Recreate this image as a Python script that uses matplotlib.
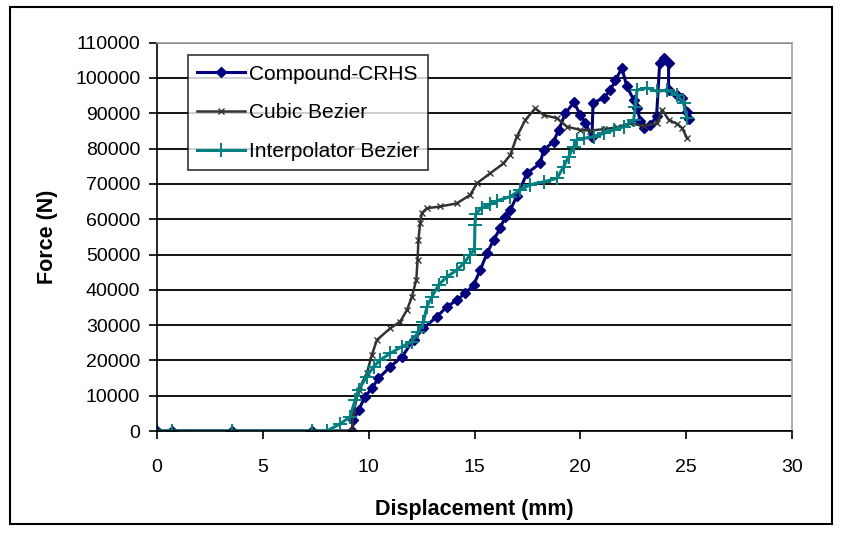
import matplotlib.pyplot as plt
from matplotlib.patches import Rectangle

plt.rcParams['font.family'] = ['Liberation Sans', 'DejaVu Sans']

# Compound-CRHS (displacement mm, force N)
crhs_x = [0, 0.72, 3.53, 7.3, 9.2, 9.28, 9.52, 9.83, 10.15, 10.46, 11.02, 11.57,
          12.12, 12.59, 13.22, 13.7, 14.17, 14.56, 14.96, 15.27, 15.59, 15.9,
          16.21, 16.45, 16.69, 17.0, 17.48, 18.1, 18.27, 18.74, 18.98, 19.29,
          19.7, 20.0, 20.24, 20.55, 20.6, 21.1, 21.42, 21.66, 21.96, 22.2,
          22.52, 22.68, 22.84, 23.0, 23.3, 23.6, 23.75, 23.94, 24.17, 24.17,
          24.57, 24.8, 25.04, 25.15]
crhs_y = [0, 0, 0, 0, 0, 3100, 5900, 9700, 12100, 14900, 18200, 21000,
          25800, 29100, 32400, 35200, 37100, 39000, 41400, 45600, 50300, 54100,
          57400, 60700, 62600, 66500, 73000, 75800, 79600, 82000, 85300, 90000,
          93100, 89500, 87200, 83400, 93000, 94300, 96600, 99400, 102800, 97600,
          93800, 91500, 87700, 85800, 86700, 89100, 104200, 105600, 104200, 96600,
          95200, 94300, 90500, 88500]

# Cubic Bezier
cubic_x = [0, 0.72, 3.53, 7.3, 9.2, 9.28, 9.52, 9.91, 10.15, 10.39, 11.02, 11.49,
           11.81, 12.04, 12.25, 12.31, 12.35, 12.43, 12.51, 12.75, 13.38, 14.17,
           14.8, 15.12, 15.74, 16.37, 16.69, 17.0, 17.4, 17.87, 18.27, 18.9,
           19.37, 20.0, 20.47, 21.1, 21.73, 22.36, 22.99, 23.63, 23.86, 24.18,
           24.57, 24.81, 25.04]
cubic_y = [0, 0, 0, 0, 0, 5000, 11600, 16300, 21500, 25800, 29100, 31000,
           34300, 38000, 42800, 48400, 54100, 58800, 61700, 63100, 63600, 64500,
           66900, 70200, 73000, 75800, 78200, 83400, 88100, 91400, 89500, 88600,
           86200, 85300, 85100, 85500, 86000, 87200, 86400, 87200, 91000, 88100,
           87000, 85800, 83000]

# Interpolator Bezier
interp_x = [0, 0.72, 3.53, 7.3, 8.02, 8.65, 9.12, 9.36, 9.52, 9.91, 10.23, 10.54,
            11.02, 11.57, 12.04, 12.35, 12.59, 12.75, 12.99, 13.3, 13.7, 14.17,
            14.49, 14.8, 15.0, 15.02, 15.06, 15.35, 15.75, 16.06, 16.69, 17.16,
            17.64, 18.27, 18.9, 19.21, 19.45, 19.68, 19.84, 20.16, 20.63, 21.1,
            21.57, 22.05, 22.52, 22.6, 22.68, 23.15, 23.63, 24.1, 24.57, 24.88,
            25.04]
interp_y = [0, 0, 0, 0, 0, 2000, 4000, 8800, 11600, 15400, 18200, 20100,
            22000, 23900, 25300, 28100, 31000, 35200, 38000, 41400, 43700, 45600,
            47500, 49900, 51500, 58400, 61500, 63300, 64200, 65200, 66400, 68300,
            69800, 70600, 71600, 74900, 77700, 80500, 82500, 82900, 83400, 84300,
            85300, 86200, 88100, 91900, 96600, 97200, 96200, 96600, 95200, 92900,
            88600]

fig = plt.figure(figsize=(8.41, 5.34), dpi=100)
ax = fig.add_axes([157 / 841, 103 / 534, 635 / 841, 388.3 / 534])

# outer chart frame
fig.patches.append(Rectangle((10 / 841, 10 / 534), 822 / 841, 517 / 534,
                             transform=fig.transFigure, fill=False,
                             edgecolor='black', linewidth=1.5))

ax.plot(crhs_x, crhs_y, color='#000080', lw=2.2, marker='D', ms=5,
        label='Compound-CRHS')
ax.plot(cubic_x, cubic_y, color='#333333', lw=1.8, marker='x', ms=4,
        mew=1.0, label='Cubic Bezier')
ax.plot(interp_x, interp_y, color='#008080', lw=2.2, marker='+', ms=10,
        mew=1.4, label='Interpolator Bezier')

ax.set_xlim(0, 30)
ax.set_ylim(0, 110000)
ax.set_xticks(range(0, 31, 5))
ax.set_yticks(range(0, 110001, 10000))
ax.yaxis.grid(True, color='black', lw=1.3)
ax.set_axisbelow(True)

for s in ['top', 'right']:
    ax.spines[s].set_color('#a0a0a0')
    ax.spines[s].set_linewidth(1.2)
for s in ['left', 'bottom']:
    ax.spines[s].set_color('black')
    ax.spines[s].set_linewidth(1.2)

ax.tick_params(direction='out', length=6, width=1.2, labelsize=14, pad=6)
ax.tick_params(axis='x', pad=14)
ax.set_xlabel('Displacement (mm)', fontsize=15.5, fontweight='bold', labelpad=17)
ax.set_ylabel('Force (N)', fontsize=15.5, fontweight='bold', labelpad=12)

leg = ax.legend(loc='upper left', bbox_to_anchor=(0.049, 0.968), fontsize=15,
                frameon=True, fancybox=False, edgecolor='black',
                handlelength=2.3, handletextpad=0.15, borderpad=0.45,
                labelspacing=0.95, borderaxespad=0)
leg.get_frame().set_linewidth(1.2)

plt.savefig('out.png', dpi=100)
